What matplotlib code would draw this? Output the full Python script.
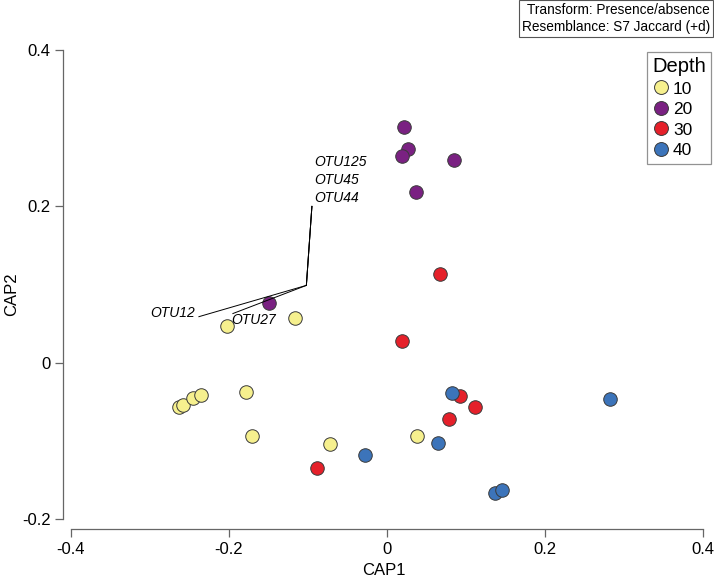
import matplotlib
matplotlib.use('Agg')
import matplotlib.pyplot as plt
from matplotlib.lines import Line2D

plt.rcParams['font.family'] = ['Liberation Sans', 'DejaVu Sans']

# CAP scores per depth group
cap1_10 = [-0.202, -0.117, -0.263, -0.258, -0.246, -0.235, -0.178, -0.171, -0.072, 0.038]
cap2_10 = [0.047, 0.057, -0.056, -0.054, -0.045, -0.041, -0.037, -0.094, -0.104, -0.093]
cap1_20 = [-0.149, 0.022, 0.027, 0.019, 0.085, 0.037]
cap2_20 = [0.076, 0.302, 0.273, 0.265, 0.259, 0.218]
cap1_30 = [0.067, 0.019, 0.093, 0.111, 0.079, -0.089]
cap2_30 = [0.113, 0.028, -0.043, -0.057, -0.072, -0.134]
cap1_40 = [0.082, 0.065, -0.028, 0.137, 0.145, 0.282]
cap2_40 = [-0.039, -0.102, -0.118, -0.167, -0.162, -0.046]

depths = ['10', '20', '30', '40']
colors = ['#F6F08E', '#7A2182', '#E5202A', '#3C74BA']

# vector overlay (origin + end points)
vec_origin = (-0.102, 0.099)
vec_names = ['OTU125', 'OTU45', 'OTU44', 'OTU12', 'OTU27']
vec_x = [-0.095, -0.095, -0.095, -0.238, -0.195]
vec_y = [0.200, 0.200, 0.200, 0.059, 0.063]

fig = plt.figure(figsize=(7.14, 5.82), dpi=100)
ax = fig.add_axes([63 / 714, 1 - 529 / 582, (705 - 63) / 714, (529 - 50) / 582])
ax.set_xlim(-0.410, 0.4025)
ax.set_ylim(-0.2125, 0.3987)

groups = [(cap1_10, cap2_10), (cap1_20, cap2_20), (cap1_30, cap2_30), (cap1_40, cap2_40)]
for (xs, ys), c in zip(groups, colors):
    ax.scatter(xs, ys, s=95, color=c, edgecolors='#3a3a3a', linewidths=0.7, zorder=3)

for vx, vy in zip(vec_x, vec_y):
    ax.plot([vec_origin[0], vx], [vec_origin[1], vy], color='black', lw=0.7, zorder=4)

ax.text(-0.0925, 0.2565, 'OTU125', style='italic', fontsize=10, va='center')
ax.text(-0.0925, 0.2335, 'OTU45', style='italic', fontsize=10, va='center')
ax.text(-0.0925, 0.2105, 'OTU44', style='italic', fontsize=10, va='center')
ax.text(-0.300, 0.064, 'OTU12', style='italic', fontsize=10, va='center')
ax.text(-0.197, 0.055, 'OTU27', style='italic', fontsize=10, va='center')

for s in ['top', 'right']:
    ax.spines[s].set_visible(False)
ax.spines['left'].set_bounds(-0.2, 0.4)
ax.spines['bottom'].set_bounds(-0.4, 0.4)
for s in ['left', 'bottom']:
    ax.spines[s].set_color('#666666')
    ax.spines[s].set_linewidth(0.9)
ax.set_xticks([-0.4, -0.2, 0, 0.2, 0.4])
ax.set_xticklabels(['-0.4', '-0.2', '0', '0.2', '0.4'])
ax.set_yticks([-0.2, 0, 0.2, 0.4])
ax.set_yticklabels(['-0.2', '0', '0.2', '0.4'])
ax.tick_params(labelsize=12, color='#666666', length=6, width=0.9, pad=3)
ax.set_xlabel('CAP1', fontsize=12)
ax.set_ylabel('CAP2', fontsize=12)
ax.xaxis.set_label_coords(0.5, -0.07)
ax.yaxis.set_label_coords(-0.068, 0.49)

handles = [Line2D([], [], marker='o', ls='', markersize=10, markerfacecolor=c,
                  markeredgecolor='#3a3a3a', markeredgewidth=0.7) for c in colors]
leg = fig.legend(handles, depths, title='Depth', loc='upper right',
                 bbox_to_anchor=(711 / 714, 1 - 52 / 582), fontsize=12.5,
                 title_fontsize=14.5, frameon=True, fancybox=False,
                 handletextpad=0.2, borderpad=0.3, labelspacing=0.25,
                 handlelength=1.0, borderaxespad=0, handleheight=0.9)
leg.get_frame().set_edgecolor('#777777')
leg.get_frame().set_linewidth(0.9)
leg._legend_box.align = 'left'

fig.text(710 / 714, 1 - 3 / 582, 'Transform: Presence/absence\nResemblance: S7 Jaccard (+d)',
         ha='right', va='top', fontsize=9.8, linespacing=1.3,
         bbox=dict(boxstyle='square,pad=0.2', fc='white', ec='#555555', lw=0.8))

fig.savefig('out.png', dpi=100)
